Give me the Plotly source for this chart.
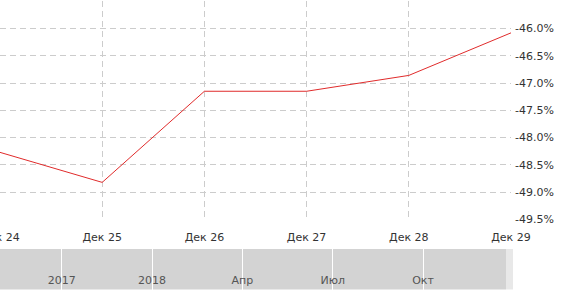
import plotly.graph_objects as go

# Data
categories = ["Дек 24", "Дек 25", "Дек 26", "Дек 27", "Дек 28", "Дек 29"]
values = [-48.27, -48.82, -47.15, -47.15, -46.86, -46.08]
y_ticks = [-49.5, -49.0, -48.5, -48.0, -47.5, -47.0, -46.5, -46.0, -45.5]
nav_labels = ["2017", "2018", "Апр", "Июл", "Окт"]

W, H = 582, 299
FONT = "DejaVu Sans"

def py(p):
    return 1 - p / H

x_idx = list(range(len(categories)))
nav_idx = list(range(len(nav_labels)))

fig = go.Figure()
fig.add_trace(go.Scatter(
    x=x_idx, y=values, mode="lines",
    line=dict(color="#e02b2b", width=1),
    hoverinfo="skip", showlegend=False,
    xaxis="x", yaxis="y",
))
# invisible trace so the navigator subplot is created
fig.add_trace(go.Scatter(
    x=nav_idx, y=[None] * len(nav_idx), mode="markers",
    marker=dict(size=0, opacity=0),
    hoverinfo="skip", showlegend=False,
    xaxis="x2", yaxis="y2",
))

ytext = [("" if v == max(y_ticks) else f"{v:.1f}%") for v in y_ticks]

fig.update_layout(
    width=W, height=H,
    margin=dict(l=0, r=0, t=0, b=0, autoexpand=False),
    paper_bgcolor="white", plot_bgcolor="white",
    font=dict(family=FONT, size=11, color="#333333"),
    xaxis=dict(
        domain=[0, 511 / W],
        range=[0, len(categories) - 1],
        tickmode="array", tickvals=x_idx, ticktext=categories,
        showgrid=True, gridcolor="#cccccc", griddash="6px,4px", gridwidth=1,
        zeroline=False, showline=False, ticks="",
        ticklabeloverflow="allow", ticklabelstandoff=9,
        automargin=False,
        anchor="y", fixedrange=True,
    ),
    yaxis=dict(
        domain=[py(219.5), py(1.2)],
        range=[-49.5, -45.5],
        side="right",
        tickmode="array", tickvals=y_ticks, ticktext=ytext,
        showgrid=True, gridcolor="#cccccc", griddash="6px,4px", gridwidth=1,
        zeroline=False, showline=False, ticks="",
        ticklabeloverflow="allow", ticklabelstandoff=3,
        automargin=False,
        anchor="x", fixedrange=True,
    ),
    xaxis2=dict(
        domain=[0, 513 / W],
        range=[-61.8 / 90.3, (513 - 61.8) / 90.3],
        tickmode="array", tickvals=nav_idx, ticktext=nav_labels,
        showgrid=True, gridcolor="#ffffff", gridwidth=1,
        zeroline=False, showline=False, ticks="",
        ticklabelposition="inside",
        ticklabeloverflow="allow",
        automargin=False,
        tickfont=dict(family=FONT, size=11, color="#555555"),
        anchor="y2", fixedrange=True,
    ),
    yaxis2=dict(
        domain=[py(289.5), py(249)],
        range=[0, 1],
        showgrid=False, zeroline=False, showline=False,
        showticklabels=False, ticks="",
        automargin=False,
        anchor="x2", fixedrange=True,
    ),
    shapes=[
        dict(type="rect", xref="x2 domain", yref="y2 domain",
             x0=0, x1=506 / 513, y0=0, y1=1,
             fillcolor="#d3d3d3", line=dict(width=0), layer="below"),
        dict(type="rect", xref="x2 domain", yref="y2 domain",
             x0=506 / 513, x1=1, y0=0, y1=1,
             fillcolor="#e8e8e8", line=dict(width=0), layer="below"),
    ],
)

fig.write_html("out.html")
